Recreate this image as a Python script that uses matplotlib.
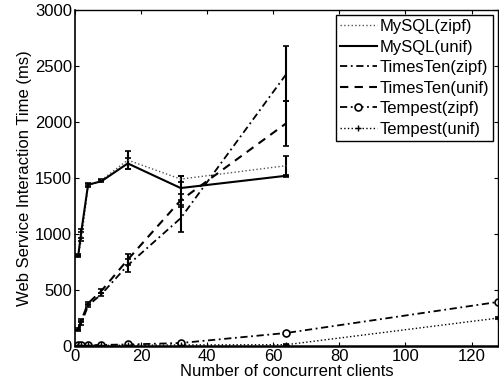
import matplotlib
matplotlib.use("Agg")
import matplotlib.pyplot as plt

plt.rcParams['font.family'] = ['Liberation Sans', 'DejaVu Sans']

clients = [1, 2, 4, 8, 16, 32, 64]
clients_t = [1, 2, 4, 8, 16, 32, 64, 128]

mysql_zipf = [810, 950, 1430, 1480, 1660, 1490, 1610]
mysql_zipf_err = [10, 15, 15, 10, 80, 30, 90]
mysql_unif = [800, 1030, 1440, 1470, 1630, 1410, 1520]
mysql_unif_err = [10, 15, 15, 10, 50, 110, 10]
tt_zipf = [140, 200, 360, 460, 720, 1140, 2430]
tt_zipf_err = [5, 10, 15, 15, 60, 120, 245]
tt_unif = [150, 230, 380, 490, 770, 1300, 1990]
tt_unif_err = [5, 10, 15, 15, 50, 60, 200]
temp_zipf = [5, 5, 5, 8, 12, 25, 115, 392]
temp_zipf_err = [2, 2, 2, 2, 3, 5, 10, 10]
temp_unif = [3, 3, 3, 4, 5, 8, 10, 248]
temp_unif_err = [1, 1, 1, 1, 2, 2, 3, 8]

FS = 12
DASHDOT = (0, (4, 2, 1, 2))

fig = plt.figure(figsize=(4.99, 3.89), dpi=100)
ax = fig.add_axes([0.150, 0.111, 0.848, 0.863])

common = dict(color='black', capsize=2, elinewidth=1.5, capthick=1.2)
c1 = ax.errorbar(clients, mysql_zipf, yerr=mysql_zipf_err, linestyle=':', linewidth=1.0,
                 color='#555555', ecolor='black', capsize=2, elinewidth=1.5, capthick=1.2,
                 label='MySQL(zipf)')
c2 = ax.errorbar(clients, mysql_unif, yerr=mysql_unif_err, linestyle='-', linewidth=1.5,
                 label='MySQL(unif)', **common)
c3 = ax.errorbar(clients, tt_zipf, yerr=tt_zipf_err, linestyle=DASHDOT, linewidth=1.3,
                 label='TimesTen(zipf)', **common)
c4 = ax.errorbar(clients, tt_unif, yerr=tt_unif_err, linestyle=(0, (4, 3)), linewidth=1.5,
                 label='TimesTen(unif)', **common)
c5 = ax.errorbar(clients_t, temp_zipf, yerr=temp_zipf_err, linestyle=DASHDOT, linewidth=1.3,
                 marker='o', markersize=5, markerfacecolor='white', markeredgewidth=1.2,
                 label='Tempest(zipf)', **common)
c6 = ax.errorbar(clients_t, temp_unif, yerr=temp_unif_err, linestyle=':', linewidth=1.0,
                 marker='+', markersize=5, label='Tempest(unif)', **common)

ax.set_xlim(0, 128)
ax.set_ylim(0, 3000)
ax.set_xticks([0, 20, 40, 60, 80, 100, 120])
ax.set_yticks([0, 500, 1000, 1500, 2000, 2500, 3000])
ax.tick_params(direction='in', top=True, right=True, labelsize=FS, length=3, pad=2)
for s in ax.spines.values():
    s.set_linewidth(1.0)
ax.spines['bottom'].set_linewidth(1.8)
ax.spines['left'].set_linewidth(1.2)

ax.set_xlabel('Number of concurrent clients', fontsize=FS, labelpad=0)
ax.set_ylabel('Web Service Interaction Time (ms)', fontsize=FS, labelpad=2)

handles = [c[0] for c in (c1, c2, c3, c4, c5, c6)]
labels = ['MySQL(zipf)', 'MySQL(unif)', 'TimesTen(zipf)', 'TimesTen(unif)',
          'Tempest(zipf)', 'Tempest(unif)']
leg = ax.legend(handles, labels, loc='upper right', fontsize=FS, frameon=True, fancybox=False,
                edgecolor='black', framealpha=1, handlelength=2.2, handletextpad=0.15,
                borderpad=0.25, labelspacing=0.33, borderaxespad=0.3, numpoints=1)
leg.get_frame().set_linewidth(1.0)

fig.savefig('out.png', dpi=100)
